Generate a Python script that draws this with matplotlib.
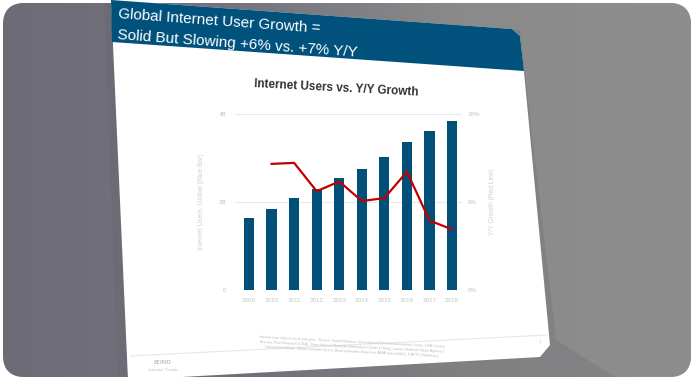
import matplotlib
matplotlib.use("Agg")
import matplotlib.pyplot as plt
import numpy as np
from matplotlib.patches import Polygon, FancyBboxPatch
from matplotlib.colors import LinearSegmentedColormap

years = ["2009", "2010", "2011", "2012", "2013", "2014", "2015", "2016", "2017", "2018"]
users_b = [1.64, 1.84, 2.08, 2.30, 2.54, 2.75, 3.02, 3.37, 3.61, 3.83]
growth_years = ["2010", "2011", "2012", "2013", "2014", "2015", "2016", "2017", "2018"]
growth_pct = [12.9, 13.0, 10.1, 11.1, 9.1, 9.4, 12.1, 7.1, 6.2]
left_ticks = [0, 2, 4]
left_labels = ["0", "2B", "4B"]
right_ticks = [0, 9, 18]
right_labels = ["0%", "9%", "18%"]

plt.rcParams['font.family'] = ['Liberation Sans', 'DejaVu Sans']

W, H = 694, 380
fig = plt.figure(figsize=(W / 100, H / 100), dpi=100)
fig.patch.set_facecolor("white")

bg = fig.add_axes([0, 0, 1, 1])
bg.set_xlim(0, W)
bg.set_ylim(H, 0)
bg.axis("off")

# rounded gray backdrop with gradient
frame = FancyBboxPatch((3, 3), W - 6, H - 6, boxstyle="round,pad=0,rounding_size=22",
                       facecolor="#8a8a8a", edgecolor="none", zorder=0)
bg.add_patch(frame)
grad = np.linspace(0, 1, 256)[None, :]
cmap = LinearSegmentedColormap.from_list("g", ["#6c6b76", "#75747e", "#8a8a8a", "#8e8e8e"])
im = bg.imshow(grad, extent=[0, W, H, 0], aspect="auto", cmap=cmap, zorder=1)
im.set_clip_path(frame)

# slide shadow
shadow = Polygon([(104, 0), (520, 30), (556, 340), (620, 380), (118, 380)],
                 closed=True, facecolor="#5f5e68", edgecolor="none", alpha=0.22, zorder=2)
bg.add_patch(shadow)
shadow.set_clip_path(frame)

# slide (white)
slide = Polygon([(111, 0), (512, 29), (520, 36), (524, 72), (550, 345), (540, 357), (128, 380)],
                closed=True, facecolor="white", edgecolor="none", zorder=3)
bg.add_patch(slide)
# header band
header = Polygon([(111, 0), (512, 29), (520, 36), (524, 71), (112, 42)],
                 closed=True, facecolor="#00527c", edgecolor="none", zorder=4)
bg.add_patch(header)

bg.text(118, 14, "Global Internet User Growth =", color="white", fontsize=11,
        rotation=-4.2, rotation_mode="anchor", ha="left", va="center", zorder=5)
bg.text(118, 35, "Solid But Slowing +6% vs. +7% Y/Y", color="white", fontsize=11,
        rotation=-4.2, rotation_mode="anchor", ha="left", va="center", zorder=5)

bg.text(336, 88, "Internet Users vs. Y/Y Growth", color="#333333", fontsize=8.5,
        fontweight="bold", rotation=-3, ha="center", va="center", zorder=5)

# footer
bg.plot([130, 547], [356, 335], color="#e6e6e6", lw=0.8, zorder=5)
bg.text(352, 347, "Internet user data is as of mid-year.  Source: United Nations / International Telecommunications Union, USA Census\n"
        "Bureau, Pew Research (USA), China Internet Network Information Center (China), Iranian Students News Agency /\n"
        "InternetWorldStats / Bond estimates (Iran), Bond estimates based on IAMAI data (India), & APJII (Indonesia).",
        color="#bbbbbb", fontsize=2.6, rotation=-3, ha="center", va="center", zorder=5, linespacing=1.3)
bg.text(163, 363, "BOND", color="#999999", fontsize=4.5, family="Liberation Serif", ha="center", va="center", zorder=5)
bg.text(163, 370, "Internet Trends", color="#bbbbbb", fontsize=3.3, family="Liberation Serif", ha="center", va="center", zorder=5)
bg.text(540, 343, "7", color="#cccccc", fontsize=3.5, ha="center", va="center", zorder=5)

# chart axes
ax_l, ax_r, ax_t, ax_b = 235, 462, 114, 290
ax = fig.add_axes([ax_l / W, 1 - ax_b / H, (ax_r - ax_l) / W, (ax_b - ax_t) / H])
ax.set_facecolor("none")
x = np.arange(len(years))
ax.bar(x, users_b, width=0.45, color="#00507a", zorder=3)
ax.set_xlim(-0.62, 9.44)
ax.set_ylim(0, 4)
ax.set_yticks(left_ticks)
ax.set_yticklabels(left_labels)
ax.set_xticks(x)
ax.set_xticklabels(years)
ax.tick_params(axis="both", length=0, labelsize=4.5, colors="#c4c4c4", pad=6)
for yv in left_ticks:
    ax.axhline(yv, color="#e9e9e9", lw=0.8, zorder=1)
for s in ax.spines.values():
    s.set_visible(False)
ax.set_ylabel("Internet Users, Global (Blue Bar)", fontsize=4.8, color="#d0d0d0", labelpad=10)

ax2 = ax.twinx()
gx = [years.index(y) for y in growth_years]
ax2.plot(gx, growth_pct, color="#c00000", lw=1.6, zorder=4)
ax2.set_ylim(0, 18)
ax2.set_yticks(right_ticks)
ax2.set_yticklabels(right_labels)
ax2.tick_params(axis="y", length=0, labelsize=4.5, colors="#c4c4c4", pad=4)
for s in ax2.spines.values():
    s.set_visible(False)
ax2.set_ylabel("Y/Y Growth (Red Line)", fontsize=4.8, color="#d0d0d0", labelpad=6)

fig.savefig("out.png", dpi=100, facecolor="white")
